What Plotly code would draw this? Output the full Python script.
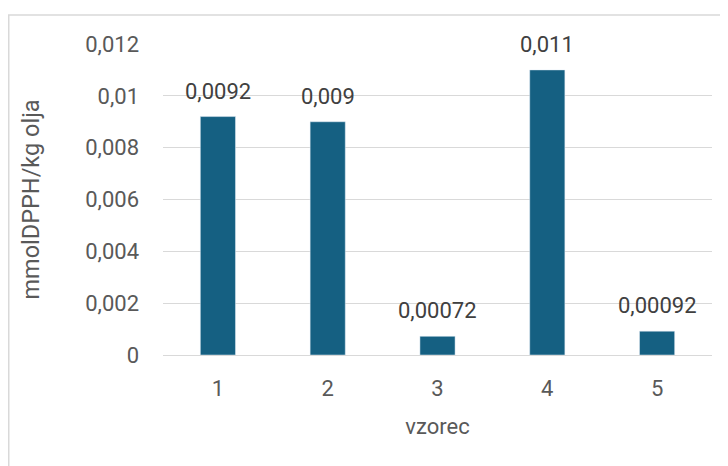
import plotly.graph_objects as go

categories = ["1", "2", "3", "4", "5"]
values = [0.0092, 0.009, 0.00072, 0.011, 0.00092]
labels = [str(v).replace(".", ",") for v in values]
y_ticks = [0, 0.002, 0.004, 0.006, 0.008, 0.01, 0.012]

FONT = "Roboto"
GREY = "#595959"
SZ = 22

fig = go.Figure(go.Bar(
    x=categories, y=values, marker_color="#156082",
))

# category axis: annotation x is the category index
for i, (v, t) in enumerate(zip(values, labels)):
    fig.add_annotation(x=i, y=v, text=t, showarrow=False, yanchor="bottom",
                       yshift=11, font=dict(size=SZ, color="#404040", family=FONT))

# page is offset by 8px body margin
OFF = 8
W, H = 728 - OFF, 466 - OFF
L, R, T, B = 163 - OFF, 16, 44 - OFF, 111
pw, ph = W - L - R, H - T - B

fig.update_layout(
    width=W, height=H, margin=dict(l=L, r=R, t=T, b=B),
    paper_bgcolor="white", plot_bgcolor="white",
    separators=", ", bargap=0.68, showlegend=False,
    font=dict(family=FONT, color=GREY, size=SZ),
    xaxis=dict(type="category", range=[-0.5, len(categories) - 0.5],
               showgrid=False, showline=True, linecolor="#d9d9d9",
               linewidth=1, ticks="", tickfont=dict(size=SZ, color=GREY),
               ticklabelstandoff=14,
               title=dict(text="vzorec", font=dict(size=SZ, color=GREY), standoff=18)),
    yaxis=dict(range=[0, 0.012], tickvals=y_ticks, showgrid=True, gridcolor="#d9d9d9",
               gridwidth=1, zeroline=False, ticks="", ticklabelstandoff=23,
               tickfont=dict(size=SZ, color=GREY),
               title=dict(text="mmolDPPH/kg olja", font=dict(size=23.5, color=GREY), standoff=38)),
    shapes=[dict(type="rect", xref="paper", yref="paper",
                 x0=(0.75 - L) / pw, x1=(W + 20 - L) / pw,
                 y0=(H - B - (H + 20)) / ph, y1=(H - B - (15 - OFF)) / ph,
                 line=dict(color="#d9d9d9", width=1.5), fillcolor="rgba(0,0,0,0)", layer="below")],
)

fig.write_html("out.html")
